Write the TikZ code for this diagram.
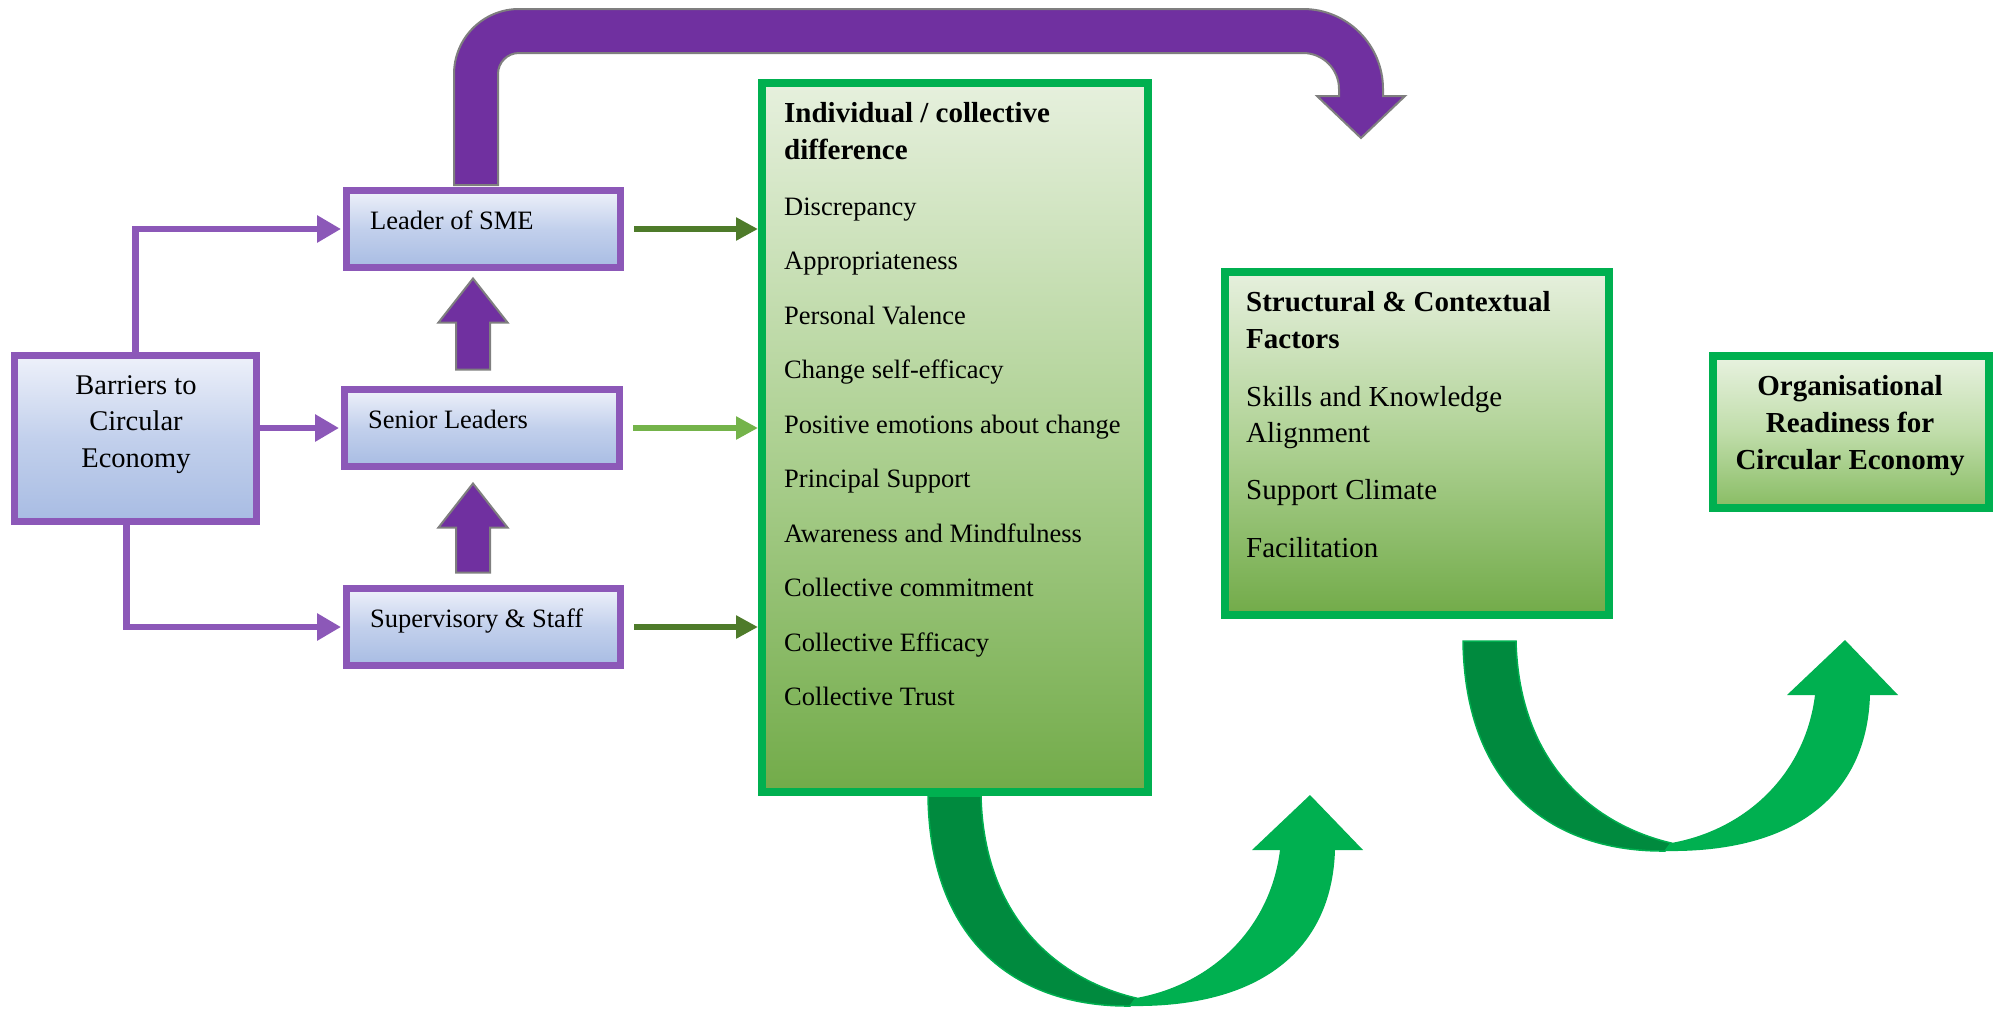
\documentclass[tikz,border=0pt]{standalone}
\usepackage{fontspec}
\setmainfont{Liberation Serif}
\usetikzlibrary{arrows.meta,calc}
\definecolor{purpleA}{HTML}{7030A0}
\definecolor{purpleLine}{HTML}{8C58B8}
\definecolor{greyEdge}{HTML}{7F7F7F}
\definecolor{greenBorder}{HTML}{00B050}
\definecolor{greenDark}{HTML}{008A3E}
\definecolor{oliveArrow}{HTML}{4E7B2A}
\definecolor{oliveLight}{HTML}{74B34A}
\definecolor{blueTop}{HTML}{EEF1FA}
\definecolor{blueMid}{HTML}{C2D0EC}
\definecolor{blueBot}{HTML}{A8BCE3}
\definecolor{gTop}{HTML}{E6F0DD}
\definecolor{gMid}{HTML}{AED193}
\definecolor{gBot}{HTML}{72AB49}
\definecolor{g3Top}{HTML}{E8F2E0}
\definecolor{g3Mid}{HTML}{C0DDAA}
\definecolor{g3Bot}{HTML}{88BC63}
\begin{document}
\begin{tikzpicture}[x=1pt,y=-1pt,
  bluebox/.style={rectangle, draw=purpleLine, line width=7pt, top color=blueTop, bottom color=blueBot, middle color=blueMid, inner sep=0pt},
  greenbox/.style={rectangle, draw=greenBorder, line width=8pt, top color=gTop, bottom color=gBot, middle color=gMid, inner sep=0pt},
  purpconn/.style={draw=purpleLine, line width=6.5pt, -{Triangle[length=24pt,width=26pt]}},
  greenconn/.style={line width=6.5pt, -{Triangle[length=22pt,width=22pt]}},
  blockarr/.style={fill=purpleA, draw=greyEdge, line width=2pt},
  lbl/.style={font=\fontsize{26.5}{32}\selectfont, inner sep=0pt},
  bigl/.style={font=\fontsize{28.5}{35}\selectfont, inner sep=0pt},
  hdr/.style={font=\bfseries\fontsize{29}{35}\selectfont, inner sep=0pt},
  itm/.style={font=\fontsize{26.5}{32}\selectfont, inner sep=0pt},
  itmb/.style={font=\fontsize{29}{35}\selectfont, inner sep=0pt}
]
\useasboundingbox (0,0) rectangle (1998,1010);

% ---------- boxes ----------
\node[bluebox, minimum width=242pt, minimum height=166pt] (barriers) at (135.5,438.5) {};
\node[bluebox, minimum width=274pt, minimum height=77pt] (leader) at (483.5,229) {};
\node[bluebox, minimum width=275pt, minimum height=77pt] (senior) at (482,428) {};
\node[bluebox, minimum width=274pt, minimum height=77pt] (super) at (483.5,627) {};

\node[greenbox, minimum width=386pt, minimum height=709pt] (box1) at (955,437.5) {};
\node[greenbox, minimum width=384pt, minimum height=343pt] (box2) at (1417,443.5) {};
\node[greenbox, minimum width=276pt, minimum height=152pt, top color=g3Top, bottom color=g3Bot, middle color=g3Mid] (box3) at (1851,432) {};

% ---------- texts ----------
\node[bigl, anchor=base] (tb1) at (136,394) {Barriers to};
\node[bigl, anchor=base] (tb2) at (136,430.5) {Circular};
\node[bigl, anchor=base] (tb3) at (136,467) {Economy};

\node[lbl, anchor=base west] (tleader) at (370,229) {Leader of SME};
\node[lbl, anchor=base west] (tsenior) at (368,428) {Senior Leaders};
\node[lbl, anchor=base west] (tsuper) at (370,627) {Supervisory \& Staff};

\node[hdr, anchor=base west] (b1h1) at (784,122) {Individual / collective};
\node[hdr, anchor=base west] (b1h2) at (784,159) {difference};
\foreach \t [count=\i from 0] in {Discrepancy, Appropriateness, Personal Valence, Change self-efficacy, Positive emotions about change, Principal Support, Awareness and Mindfulness, Collective commitment, Collective Efficacy, Collective Trust}
  \node[itm, anchor=base west] (b1i\i) at (784,{215+54.5*\i}) {\t};

\node[hdr, anchor=base west] (b2h1) at (1246,311) {Structural \& Contextual};
\node[hdr, anchor=base west] (b2h2) at (1246,348) {Factors};
\node[itmb, anchor=base west] (b2i1) at (1246,406) {Skills and Knowledge};
\node[itmb, anchor=base west] (b2i2) at (1246,442) {Alignment};
\node[itmb, anchor=base west] (b2i3) at (1246,499) {Support Climate};
\node[itmb, anchor=base west] (b2i4) at (1246,557) {Facilitation};

\node[hdr, anchor=base] (b3t1) at (1850,395) {Organisational};
\node[hdr, anchor=base] (b3t2) at (1850,432) {Readiness for};
\node[hdr, anchor=base] (b3t3) at (1850,469) {Circular Economy};

% ---------- purple connectors ----------
\draw[purpconn] (barriers.north) |- ([xshift=-2pt]leader.west);
\draw[purpconn] (barriers.east |- senior.west) -- ([xshift=-2pt]senior.west);
\draw[purpconn] ([xshift=-9pt]barriers.south) |- ([xshift=-2pt]super.west);

% ---------- green connectors ----------
\draw[greenconn, draw=oliveArrow, fill=oliveArrow] ([xshift=10pt]leader.east) -- (leader.east -| box1.west);
\draw[greenconn, draw=oliveLight, fill=oliveLight] ([xshift=10pt]senior.east) -- (senior.east -| box1.west);
\draw[greenconn, draw=oliveArrow, fill=oliveArrow] ([xshift=10pt]super.east) -- (super.east -| box1.west);

% ---------- block up arrows ----------
\coordinate (u1b) at ($(senior.north)+(-9,-16.5)$);
\coordinate (u1t) at ($(leader.south)+(-10.5,7.5)$);
\coordinate (u2b) at ($(super.north)+(-10.5,-12.5)$);
\coordinate (u2t) at ($(senior.south)+(-9,13.5)$);
\foreach \b/\t in {u1b/u1t, u2b/u2t}
  \draw[blockarr] let \p1=(\b), \p2=(\t) in
    (\x1-17pt,\y1) -- (\x1-17pt,\y2-44pt) -- (\x1-34.5pt,\y2-44pt) -- (\x1,\y2)
    -- (\x1+34.5pt,\y2-44pt) -- (\x1+17pt,\y2-44pt) -- (\x1+17pt,\y1) -- cycle;

% ---------- big purple loop arrow ----------
\coordinate (loopstart) at ($(leader.north)+(-7.5,-5.5)$);
\coordinate (looptip) at (1361,138);
\draw[blockarr] (454,185) -- (454,74) arc[start angle=180, end angle=270, radius=65]
  -- (1303,9) arc[start angle=270, end angle=360, radius=80]
  -- (1383,96) -- (1405,96) -- (looptip) -- (1317,96) -- (1339,96) -- (1339,89)
  arc[start angle=0, end angle=-90, radius=36]
  -- (519,53) arc[start angle=270, end angle=180, radius=21]
  -- (498,185) -- cycle;

% ---------- green U arrows ----------
\foreach \sx/\sy in {0/0, 535/-155}{
\begin{scope}[shift={(\sx,\sy)}]
  \fill[greenDark, draw=greenBorder, line width=1.5pt] (928,796) .. controls (930,945) and (1020,1007) .. (1130,1006)
     -- (1136,998) .. controls (1060,980) and (984,920) .. (981,796) -- cycle;
  \fill[greenBorder] (1130,1006) .. controls (1260,1008) and (1332,950) .. (1335,850)
     -- (1280,850) .. controls (1270,930) and (1210,985) .. (1136,998) -- cycle;
  \fill[greenBorder] (1252,850) -- (1310,795) -- (1363,850) -- cycle;
\end{scope}}
\end{tikzpicture}
\end{document}
